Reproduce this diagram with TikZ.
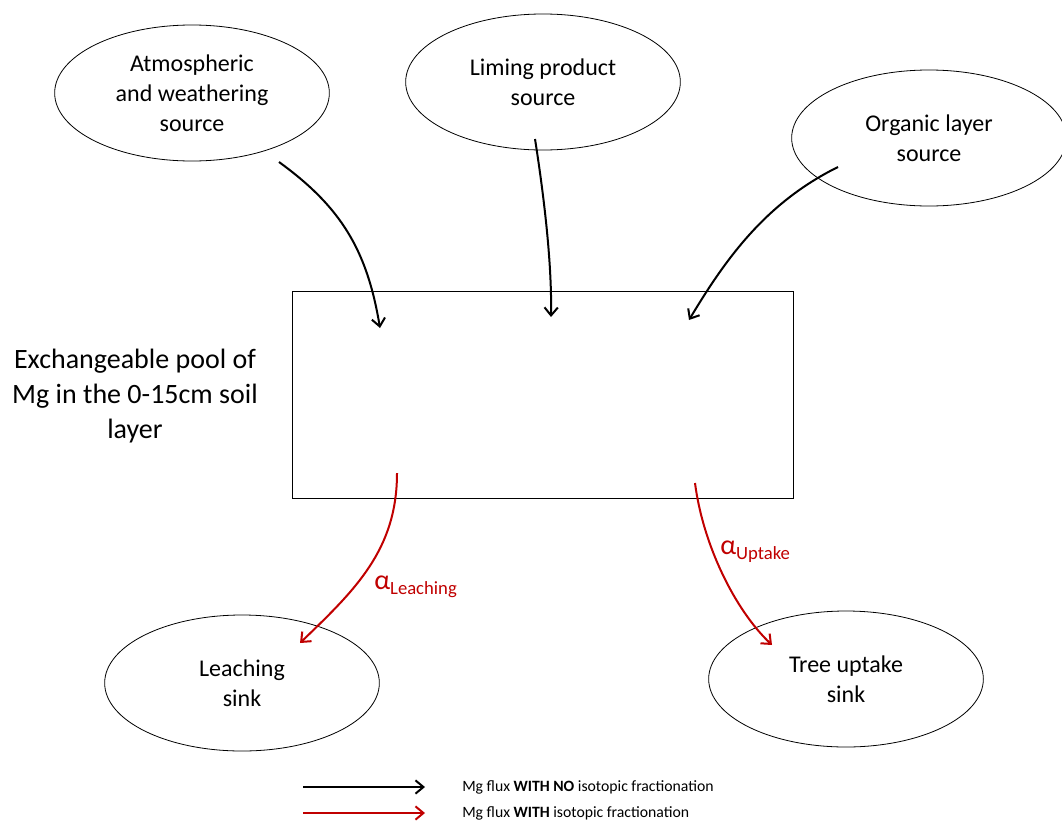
\documentclass[tikz,border=0pt]{standalone}
\usepackage{fontspec}
\setmainfont{Carlito}
\usetikzlibrary{shapes.geometric,arrows.meta}

\definecolor{fracred}{RGB}{192,0,0}

\tikzset{
  pool/.style={draw,ellipse,line width=0.6pt,inner sep=0pt,
    minimum width=206pt,minimum height=102pt,align=center,
    font=\fontsize{18}{22.5}\selectfont},
  flux/.style={line width=1.5pt,-{Straight Barb[length=6pt,width=10pt]}},
  fracflux/.style={flux,draw=fracred},
  alphalabel/.style={anchor=base west,inner sep=0pt,text=fracred,
    font=\fontsize{21}{24}\selectfont},
  keytext/.style={anchor=west,inner sep=0pt,font=\fontsize{11.8}{14}\selectfont}
}

\newcommand\sublabel[1]{\raisebox{-4pt}{\fontsize{14}{16}\selectfont #1}}

\begin{document}
\begin{tikzpicture}[x=0.75pt,y=-0.75pt]
\useasboundingbox (0,0) rectangle (1062,828);

% sources and sinks
\node[pool] (atmo) at (192,93) {Atmospheric\\and weathering\\source};
\node[pool] (lime) at (543,82) {Liming product\\source};
\node[pool] (orga) at (929,138) {Organic layer\\source};
\node[pool] (leach) at (242,683) {Leaching\\sink};
\node[pool] (tree) at (846,679) {Tree uptake\\sink};

% exchangeable pool
\node[draw,line width=0.6pt,inner sep=0pt,minimum width=375.75pt,
  minimum height=155.25pt] (box) at (542.5,394.5) {};
\node[align=center,font=\fontsize{21}{26.25}\selectfont] (poollabel)
  at (135,396) {Exchangeable pool of\\Mg in the 0-15cm soil\\layer};

% arrow ends
\coordinate (atmo-out) at (279,162);
\coordinate (atmo-in) at (380,328);
\coordinate (lime-out) at (535,139);
\coordinate (lime-in) at (551,317);
\coordinate (orga-out) at (838,167);
\coordinate (orga-in) at (689,320);
\coordinate (leach-out) at (397,473);
\coordinate (leach-in) at (300,643);
\coordinate (tree-out) at (695,483);
\coordinate (tree-in) at (772,645);

\draw[flux] (atmo-out) .. controls (341,207) and (367,250) .. (atmo-in);
\draw[flux] (lime-out) .. controls (543,190) and (552,260) .. (lime-in);
\draw[flux] (orga-out) .. controls (765,203) and (725,260) .. (orga-in);
\draw[fracflux] (leach-out) .. controls (397,550) and (355,590) .. (leach-in);
\draw[fracflux] (tree-out) .. controls (703,545) and (735,610) .. (tree-in);

\node[alphalabel] (alphaleach) at (374,589) {α\sublabel{Leaching}};
\node[alphalabel] (alphatree) at (720,554) {α\sublabel{Uptake}};

% legend
\coordinate (key1-a) at (303,787);
\coordinate (key1-b) at (425,787);
\coordinate (key2-a) at (303,813);
\coordinate (key2-b) at (425,813);
\draw[flux] (key1-a) -- (key1-b);
\draw[fracflux] (key2-a) -- (key2-b);
\node[keytext] (key1) at (462,787) {Mg flux \textbf{WITH NO} isotopic fractionation};
\node[keytext] (key2) at (462,813) {Mg flux \textbf{WITH} isotopic fractionation};

\end{tikzpicture}
\end{document}
